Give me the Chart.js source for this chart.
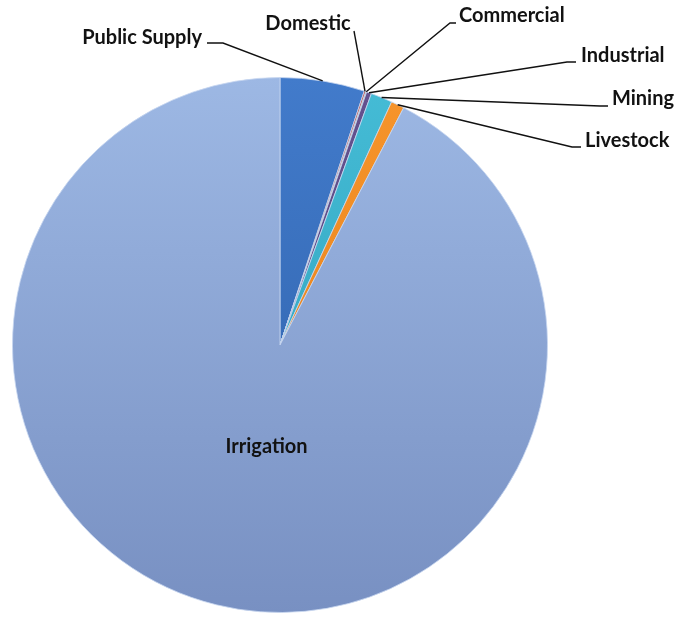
<!DOCTYPE html>
<html>
<head>
<meta charset="utf-8">
<script src="https://cdn.jsdelivr.net/npm/chart.js@4/dist/chart.umd.min.js"></script>
<style>
  html, body { margin: 0; padding: 0; background: #fff; }
  #wrap { width: 678px; height: 617px; }
</style>
</head>
<body>
<div id="wrap"><canvas id="pieChart"></canvas></div>
<script>
const labels = ["Public Supply", "Domestic", "Commercial", "Industrial", "Mining", "Livestock", "Irrigation"];
const values = [5.1, 0.1, 0.05, 0.3, 1.3, 0.8, 92.35];

const topColors = ["#427bcb", "#c0504d", "#9bbb59", "#65528f", "#45bcd6", "#f7952c", "#9db8e4"];
const bottomColors = ["#2c5ea6", "#a03c39", "#7f9c45", "#4f3f77", "#2a9ab4", "#e07a14", "#7890c2"];

// where each outside label sits: elbow of the leader line, line end, text anchor
const callouts = [
  { elbow: [223, 43], end: [207, 43], text: [202, 38], align: "right" },
  { elbow: null, end: [354, 31], text: [308, 24], align: "center" },
  { elbow: [450, 23], end: [456, 23], text: [459, 16], align: "left" },
  { elbow: [567, 62], end: [576, 62], text: [581, 56], align: "left" },
  { elbow: [600, 106], end: [608, 106], text: [612, 99], align: "left" },
  { elbow: [572, 147], end: [581, 147], text: [585, 141], align: "left" },
];

const ctx = document.getElementById("pieChart").getContext("2d");

function sliceFill(context) {
  const area = context.chart.chartArea;
  const i = context.dataIndex;
  if (!area) return topColors[i];
  const g = context.chart.ctx.createLinearGradient(0, area.top, 0, area.bottom);
  g.addColorStop(0, topColors[i]);
  g.addColorStop(1, bottomColors[i]);
  return g;
}

const labelPlugin = {
  id: "calloutLabels",
  afterDatasetsDraw(chart) {
    const c = chart.ctx;
    const arcs = chart.getDatasetMeta(0).data;
    c.save();
    c.font = "bold 20px Lato, 'Open Sans', sans-serif";
    c.fillStyle = "#121212";
    c.strokeStyle = "#111";
    c.lineWidth = 1.4;
    c.textBaseline = "middle";

    arcs.forEach((arc, i) => {
      const p = arc.getProps(["x", "y", "startAngle", "endAngle", "outerRadius"], true);
      const mid = (p.startAngle + p.endAngle) / 2;
      if (i === labels.length - 1) {
        // big slice gets its label inside
        const r = p.outerRadius * 0.4;
        c.textAlign = "center";
        c.fillText(labels[i], p.x + Math.cos(mid) * r + 12, p.y + Math.sin(mid) * r - 2);
        return;
      }
      const co = callouts[i];
      const sx = p.x + Math.cos(mid) * p.outerRadius;
      const sy = p.y + Math.sin(mid) * p.outerRadius;
      c.beginPath();
      c.moveTo(sx, sy);
      if (co.elbow) c.lineTo(co.elbow[0], co.elbow[1]);
      c.lineTo(co.end[0], co.end[1]);
      c.stroke();
      c.textAlign = co.align;
      c.fillText(labels[i], co.text[0], co.text[1]);
    });
    c.restore();
  },
};

new Chart(ctx, {
  type: "pie",
  data: {
    labels: labels,
    datasets: [
      {
        data: values,
        backgroundColor: sliceFill,
        borderColor: "rgba(200, 215, 240, 0.8)",
        borderWidth: 1,
      },
    ],
  },
  options: {
    responsive: true,
    maintainAspectRatio: false,
    animation: false,
    layout: {
      padding: { left: 12, top: 77, right: 130, bottom: 4 },
    },
    plugins: {
      legend: { display: false },
      tooltip: { enabled: false },
    },
  },
  plugins: [labelPlugin],
});
</script>
</body>
</html>
